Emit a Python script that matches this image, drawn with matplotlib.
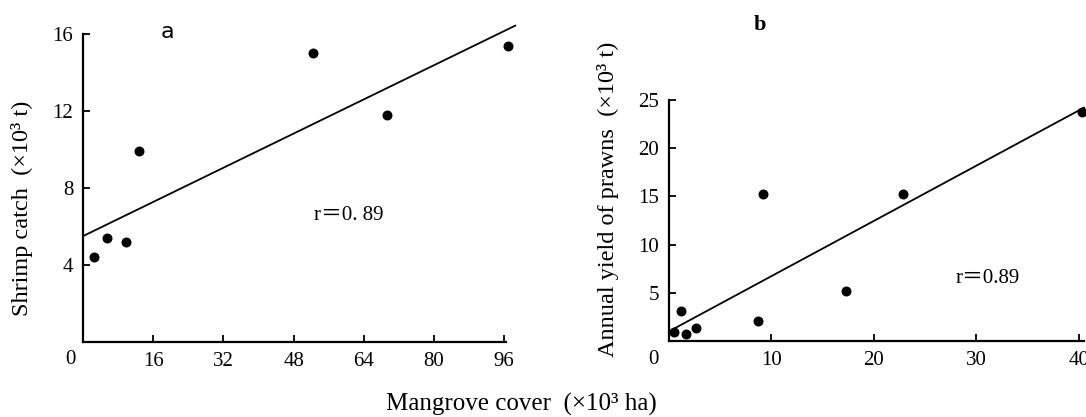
import matplotlib
matplotlib.use("Agg")
import matplotlib.pyplot as plt
import numpy as np

# Panel a: mangrove cover vs shrimp catch
a_x = [2.6, 5.4, 9.9, 12.7, 52.5, 69.3, 96.9]
a_y = [4.4, 5.4, 5.2, 9.9, 15.0, 11.8, 15.4]
a_intercept, a_slope = 5.5, 0.111
a_line_x = [0, 98.5]
a_xticks = [16, 32, 48, 64, 80, 96]
a_yticks = [4, 8, 12, 16]

# Panel b: mangrove cover vs annual yield of prawns
b_x = [0.5, 1.2, 1.7, 2.6, 8.7, 9.2, 17.3, 22.8, 40.3]
b_y = [0.9, 3.1, 0.7, 1.35, 2.1, 15.2, 5.2, 15.2, 23.8]
b_intercept, b_slope = 1.0, 0.573
b_line_x = [0.3, 40.5]
b_xticks = [10, 20, 30, 40]
b_yticks = [5, 10, 15, 20, 25]

serif = ['Liberation Serif', 'DejaVu Serif']
plt.rcParams['font.family'] = serif

W, H = 1086, 417
fig = plt.figure(figsize=(W / 100, H / 100), dpi=100)

def px_axes(x0, x1, y_top, y_bot):
    return fig.add_axes([x0 / W, 1 - y_bot / H, (x1 - x0) / W, (y_bot - y_top) / H])

def style(ax):
    for s in ['top', 'right']:
        ax.spines[s].set_visible(False)
    for s in ['left', 'bottom']:
        ax.spines[s].set_linewidth(1.6)
    ax.tick_params(direction='in', length=5, width=1.3, labelsize=15, pad=7)

# ---- panel a
axa = px_axes(83, 506, 34, 342)
axa.set_xlim(0, 96.4)
axa.set_ylim(0, 16)
axa.set_xticks(a_xticks)
axa.set_yticks(a_yticks)
style(axa)
axa.scatter(a_x, a_y, s=38, color='black', zorder=3, clip_on=False)
lx = np.array(a_line_x)
axa.plot(lx, a_intercept + a_slope * lx, color='black', lw=1.3, clip_on=False)
axa.text(0.199, 1.006, 'a', transform=axa.transAxes, fontsize=16, family='DejaVu Sans',
         ha='center', va='center')
axa.text(0.629, 0.412, 'r\uff1d0. 89', transform=axa.transAxes, fontsize=15,
         family=['Liberation Serif', 'Noto Sans CJK SC'], ha='center', va='center')

# ---- panel b
axb = px_axes(669, 1084, 100, 341)
axb.set_xlim(0, 40.5)
axb.set_ylim(0, 25)
axb.set_xticks(b_xticks)
axb.set_yticks(b_yticks)
style(axb)
axb.scatter(b_x, b_y, s=38, color='black', zorder=3, clip_on=False)
lx = np.array(b_line_x)
axb.plot(lx, b_intercept + b_slope * lx, color='black', lw=1.3, clip_on=False)
axb.text(0.22, 1.31, 'b', transform=axb.transAxes, fontsize=16, family=serif,
         fontweight='bold', ha='center', va='center')
axb.text(0.769, 0.261, 'r\uff1d0.89', transform=axb.transAxes, fontsize=15,
         family=['Liberation Serif', 'Noto Sans CJK SC'], ha='center', va='center')

# origin labels
fig.text(70 / W, 1 - 359 / H, '0', fontsize=15, ha='center', va='center')
fig.text(653 / W, 1 - 359 / H, '0', fontsize=15, ha='center', va='center')

# axis titles
fig.text(22 / W, 1 - 208 / H, 'Shrimp catch  (\u00d710\u00b3 t)', fontsize=17.5,
         rotation=90, ha='center', va='center')
fig.text(608 / W, 1 - 199 / H, 'Annual yield of prawns  (\u00d710\u00b3 t)', fontsize=17.5,
         rotation=90, ha='center', va='center')
fig.text(521 / W, 1 - 404 / H, 'Mangrove cover  (\u00d710\u00b3 ha)', fontsize=18,
         ha='center', va='center')

fig.savefig('out.png', dpi=100)
